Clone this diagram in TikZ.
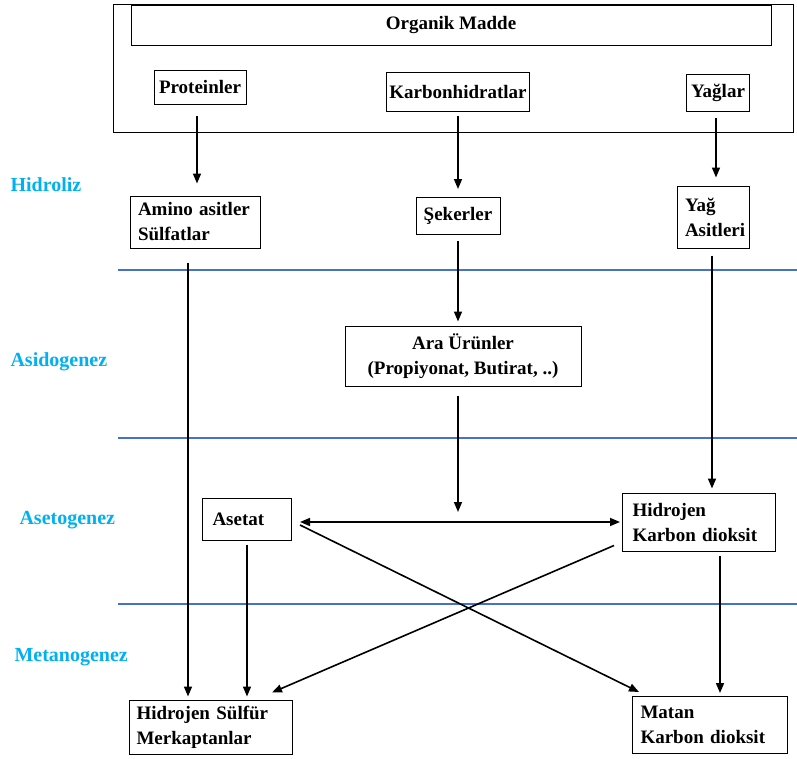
\documentclass[tikz,border=0pt]{standalone}
\usepackage{fontspec}
\setmainfont{Liberation Serif}
\usetikzlibrary{arrows.meta}
\definecolor{stageblue}{RGB}{0,176,240}
\definecolor{lineblue}{RGB}{68,114,196}
\begin{document}
\begin{tikzpicture}[x=1pt,y=-1pt,
  box/.style={draw, line width=1pt, fill=white, inner sep=0pt,
    font=\fontsize{19}{25}\selectfont\bfseries},
  leftbox/.style={box, align=left, inner xsep=8pt, text width=#1},
  flow/.style={-{Triangle[length=10pt,width=8pt]}, line width=1.6pt},
  stage/.style={anchor=west, text=stageblue, font=\fontsize{20}{22}\selectfont\bfseries},
  border/.style={lineblue, line width=2.6pt}]
  \useasboundingbox (0,0) rectangle (797,758);
  \draw[line width=1pt] (113,4) rectangle (793,132);
  \node[box, minimum width=640, minimum height=40] (om) at (451,25) {Organik Madde};
  \node[box, minimum width=92, minimum height=34] (prot) at (200,87) {Proteinler};
  \node[box, minimum width=143, minimum height=39] (karb) at (458,92) {Karbonhidratlar};
  \node[box, minimum width=63, minimum height=37] (yag) at (718,93) {Yağlar};
  \node[leftbox=114, minimum height=52] (amino) at (195,222) {Amino asitler\\Sülfatlar};
  \node[box, minimum width=84, minimum height=37] (seker) at (458,216) {Şekerler};
  \node[leftbox=56, inner xsep=8pt, minimum height=62] (yagasit) at (713,217) {Yağ\\Asitleri};
  \node[box, align=center, minimum width=236, minimum height=60] (ara) at (463,356) {Ara Ürünler\\ (Propiyonat, Butirat, ..)};
  \node[leftbox=69, inner xsep=10pt, minimum height=42] (asetat) at (247,519) {Asetat};
  \node[leftbox=133, inner xsep=10pt, minimum height=58] (hid) at (699,522) {Hidrojen\\Karbon dioksit};
  \node[leftbox=149, inner xsep=7pt, minimum height=54] (hs) at (211,727) {Hidrojen Sülfür\\Merkaptanlar};
  \node[leftbox=139, minimum height=57] (matan) at (710,725) {Matan\\Karbon dioksit};

  \node[stage] (hidroliz) at (7,185) {Hidroliz};
  \node[stage] (asidogenez) at (7,362) {Asidogenez};
  \node[stage] (asetogenez) at (16,520) {Asetogenez};
  \node[stage] (metanogenez) at (11,657) {Metanogenez};

  \draw[border] (118,270) -- (797,270);
  \draw[border] (118,438) -- (797,438);
  \draw[border] (118,604) -- (797,604);

  \draw[flow, shorten <=11pt, shorten >=12pt] ([xshift=-3pt]prot.south) -- ([xshift=-3pt]prot.south |- amino.north);
  \draw[flow, shorten <=4pt, shorten >=8pt] (karb.south) -- (seker.north);
  \draw[flow, shorten <=6pt, shorten >=8pt] ([xshift=-2pt]yag.south) -- ([xshift=-2pt]yag.south |- yagasit.north);
  \draw[flow, shorten <=14pt, shorten >=3pt] ([xshift=-7pt]amino.south) -- ([xshift=-7pt]amino.south |- hs.north);
  \draw[flow, shorten <=6pt, shorten >=4pt] (seker.south) -- (seker.south |- ara.north);
  \draw[flow, shorten <=7pt, shorten >=4pt] ([xshift=-1pt]yagasit.south) -- ([xshift=-1pt]yagasit.south |- hid.north);
  \draw[flow, shorten <=9pt, shorten >=7pt] ([xshift=-5pt]ara.south) -- ([xshift=-5pt]ara.south |- asetat.east);
  \draw[{Triangle[length=10pt,width=8pt]}-{Triangle[length=10pt,width=8pt]}, line width=1.6pt, shorten <=8pt, shorten >=2pt] ([yshift=-3pt]asetat.east) -- ([yshift=-3pt]asetat.east -| hid.west);
  \draw[flow, shorten <=4pt, shorten >=3pt] (asetat.south) -- (asetat.south |- hs.north);
  \draw[flow] ([shift={(8pt,-6pt)}]asetat.east) -- ([shift={(7pt,4pt)}]matan.north west);
  \draw[flow] ([shift={(-8pt,6pt)}]hid.south west) -- ([shift={(-21pt,7pt)}]hs.north east);
  \draw[flow, shorten <=4pt, shorten >=3pt] ([xshift=21pt]hid.south) -- ([xshift=21pt]hid.south |- matan.north);
\end{tikzpicture}
\end{document}
